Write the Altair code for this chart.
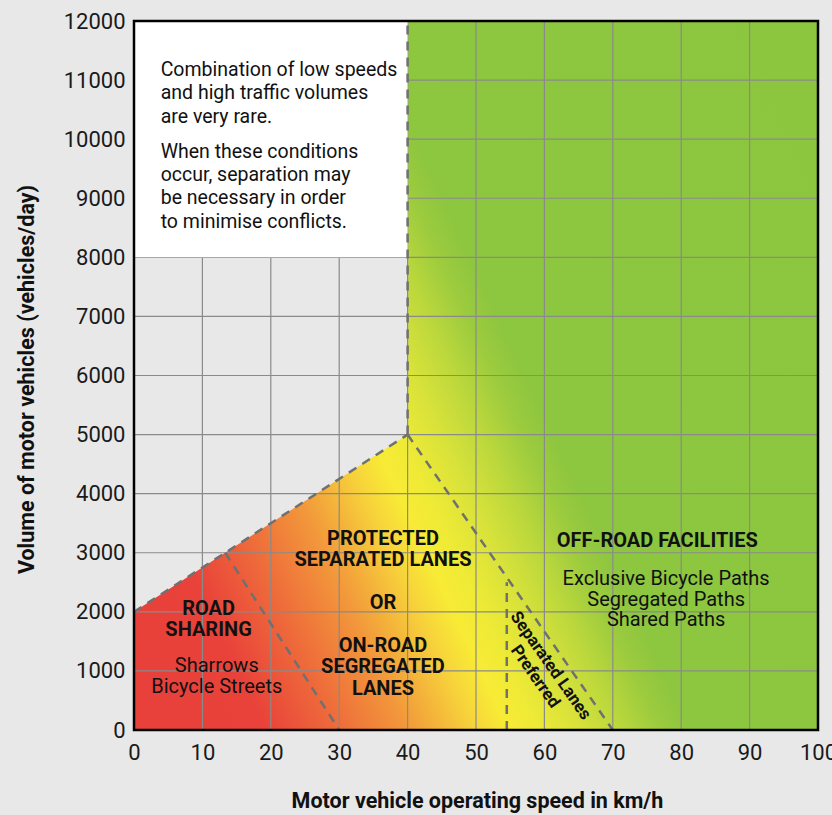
import altair as alt
import pandas as pd

FONT = "Roboto"
INK = "#111111"
PAPER = "#e8e8e8"

# Axis extents and tick values
SPEED_DOMAIN = [0, 100]
VOLUME_DOMAIN = [0, 12000]
SPEED_TICKS = [0, 10, 20, 30, 40, 50, 60, 70, 80, 90, 100]
VOLUME_TICKS = [0, 1000, 2000, 3000, 4000, 5000, 6000, 7000, 8000, 9000, 10000, 11000, 12000]

# Upper-left limit of the guidance zone: everything above this line (up to 12000/day)
# is outside the coloured zone
LIMIT_SPEED = [0, 40]
LIMIT_VOLUME = [2000, 5000]

# Dashed boundaries between facility types
DASH_FROM_SPEED = [0, 40, 13.33, 40, 54.5]
DASH_FROM_VOLUME = [2000, 5000, 3000, 5000, 0]
DASH_TO_SPEED = [40, 40, 30, 70, 54.5]
DASH_TO_VOLUME = [5000, 12000, 0, 0, 2500]

# Note box in the low-speed / high-volume corner
NOTE_SPEED = [0, 40]
NOTE_VOLUME = [8000, 12000]

# Colour ramp: red (mixed traffic) through yellow to green (off-road)
RAMP_OFFSETS = [0.0, 0.13, 0.20, 0.27, 0.30, 0.34, 0.37, 0.40, 0.44, 0.48, 0.52, 0.55, 1.0]
RAMP_COLORS = ["#e8403a", "#e9423a", "#ee6a3a", "#f2983b", "#f4b23a", "#f7d63a", "#f8eb35",
               "#eeea36", "#d8e23a", "#bcd83c", "#9ccb3e", "#8dc63f", "#8cc63f"]

# Zone headings (bold); positions give the first line of each label
HEADINGS = ["ROAD\nSHARING", "PROTECTED\nSEPARATED LANES", "OR",
            "ON-ROAD\nSEGREGATED\nLANES", "OFF-ROAD FACILITIES"]
HEADING_SPEED = [10.9, 36.4, 36.4, 36.4, 76.5]
HEADING_VOLUME = [2048, 3233, 2149, 1422, 3203]

# Facility examples (regular)
DETAILS = ["Sharrows\nBicycle Streets",
           "Exclusive Bicycle Paths\nSegregated Paths\nShared Paths"]
DETAIL_SPEED = [12.1, 77.8]
DETAIL_VOLUME = [1083, 2549]

# Note box paragraphs
NOTES = ["Combination of low speeds\nand high traffic volumes\nare very rare.",
         "When these conditions\noccur, separation may\nbe necessary in order\nto minimise conflicts."]
NOTE_TEXT_SPEED = [3.9, 3.9]
NOTE_TEXT_VOLUME = [11171, 9788]

# Label running along the diagonal band
DIAG_TEXT = ["Separated Lanes\nPreferred"]
DIAG_SPEED = [60.9]
DIAG_VOLUME = [1087]

x_scale = alt.Scale(domain=SPEED_DOMAIN, nice=False, zero=False)
y_scale = alt.Scale(domain=VOLUME_DOMAIN, nice=False, zero=True)

ramp = alt.Gradient(
    gradient="linear",
    stops=[alt.GradientStop(color=c, offset=o) for o, c in zip(RAMP_OFFSETS, RAMP_COLORS)],
    x1=0, y1=1, x2=1.2, y2=0.42,
)

bounds = pd.DataFrame({
    "s0": [SPEED_DOMAIN[0]], "s1": [SPEED_DOMAIN[1]],
    "v0": [VOLUME_DOMAIN[0]], "v1": [VOLUME_DOMAIN[1]],
})

# Coloured field over the whole plot
field = alt.Chart(bounds).mark_rect(color=ramp).encode(
    x=alt.X("s0:Q", scale=x_scale, axis=alt.Axis(
        values=SPEED_TICKS, format="d", title="Motor vehicle operating speed in km/h",
        grid=False, ticks=False, tickSize=0, domain=False,
        labelFont=FONT, labelFontSize=22, labelColor="#1a1a1a", labelPadding=12,
        labelFlush=False, labelOverlap=False,
        titleFont=FONT, titleFontSize=21.5, titleFontWeight="bold", titleColor=INK,
        titleX=343, titleY=77, titleBaseline="alphabetic")),
    x2="s1:Q",
    y=alt.Y("v0:Q", scale=y_scale, axis=alt.Axis(
        values=VOLUME_TICKS, format="d", title="Volume of motor vehicles (vehicles/day)",
        grid=False, ticks=False, tickSize=0, domain=False,
        labelFont=FONT, labelFontSize=22, labelColor="#1a1a1a", labelPadding=9,
        labelFlush=False, labelOverlap=False,
        titleFont=FONT, titleFontSize=21.5, titleFontWeight="bold", titleColor=INK,
        titleX=-107, titleY=358, titleBaseline="middle")),
    y2="v1:Q",
)

# Region outside the zone, above the speed/volume limit line
outside_df = pd.DataFrame({"speed": LIMIT_SPEED, "volume": LIMIT_VOLUME,
                           "top": [VOLUME_DOMAIN[1]] * len(LIMIT_SPEED)})
outside = alt.Chart(outside_df).mark_area(color=PAPER, interpolate="linear").encode(
    x="speed:Q", y="volume:Q", y2="top:Q")

grid_x = alt.Chart(pd.DataFrame({"speed": SPEED_TICKS[1:-1]})).mark_rule(
    color="#8a8a8a", strokeWidth=1.2).encode(x="speed:Q")
grid_y = alt.Chart(pd.DataFrame({"volume": VOLUME_TICKS[1:-1]})).mark_rule(
    color="#8a8a8a", strokeWidth=1.2).encode(y="volume:Q")

note_box = alt.Chart(pd.DataFrame({
    "s0": [NOTE_SPEED[0]], "s1": [NOTE_SPEED[1]],
    "v0": [NOTE_VOLUME[0]], "v1": [NOTE_VOLUME[1]],
})).mark_rect(color="white").encode(x="s0:Q", x2="s1:Q", y="v0:Q", y2="v1:Q")

dash_df = pd.DataFrame({"s0": DASH_FROM_SPEED, "v0": DASH_FROM_VOLUME,
                        "s1": DASH_TO_SPEED, "v1": DASH_TO_VOLUME})
dashes = alt.Chart(dash_df).mark_rule(
    color="#707070", strokeWidth=2.5, strokeDash=[9, 7]).encode(
    x="s0:Q", y="v0:Q", x2="s1:Q", y2="v1:Q")

frame = alt.Chart(bounds).mark_rect(filled=False, stroke="black", strokeWidth=2.5).encode(
    x="s0:Q", x2="s1:Q", y="v0:Q", y2="v1:Q")

headings = alt.Chart(pd.DataFrame({
    "label": HEADINGS, "speed": HEADING_SPEED, "volume": HEADING_VOLUME,
})).mark_text(font=FONT, fontSize=20, fontWeight="bold", color=INK,
              align="center", baseline="middle", lineBreak="\n", lineHeight=21.5).encode(
    x="speed:Q", y="volume:Q", text="label:N")

details = alt.Chart(pd.DataFrame({
    "label": DETAILS, "speed": DETAIL_SPEED, "volume": DETAIL_VOLUME,
})).mark_text(font=FONT, fontSize=20, color=INK,
              align="center", baseline="middle", lineBreak="\n", lineHeight=20.5).encode(
    x="speed:Q", y="volume:Q", text="label:N")

notes = alt.Chart(pd.DataFrame({
    "label": NOTES, "speed": NOTE_TEXT_SPEED, "volume": NOTE_TEXT_VOLUME,
})).mark_text(font=FONT, fontSize=19.5, color=INK,
              align="left", baseline="middle", lineBreak="\n", lineHeight=23.4).encode(
    x="speed:Q", y="volume:Q", text="label:N")

diag = alt.Chart(pd.DataFrame({
    "label": DIAG_TEXT, "speed": DIAG_SPEED, "volume": DIAG_VOLUME,
})).mark_text(font=FONT, fontSize=17, fontWeight="bold", color=INK, angle=55,
              align="center", baseline="middle", lineBreak="\n", lineHeight=19).encode(
    x="speed:Q", y="volume:Q", text="label:N")

chart = alt.layer(
    field, outside, grid_x, grid_y, note_box, dashes, frame,
    headings, details, notes, diag
).properties(
    width=684,
    height=709,
    background=PAPER,
    padding={"left": 134, "top": 21, "right": 14, "bottom": 85},
    autosize=alt.AutoSizeParams(type="none"),
).configure_view(stroke=None)

chart.save("out.html", embed_options={"renderer": "svg", "actions": False})
